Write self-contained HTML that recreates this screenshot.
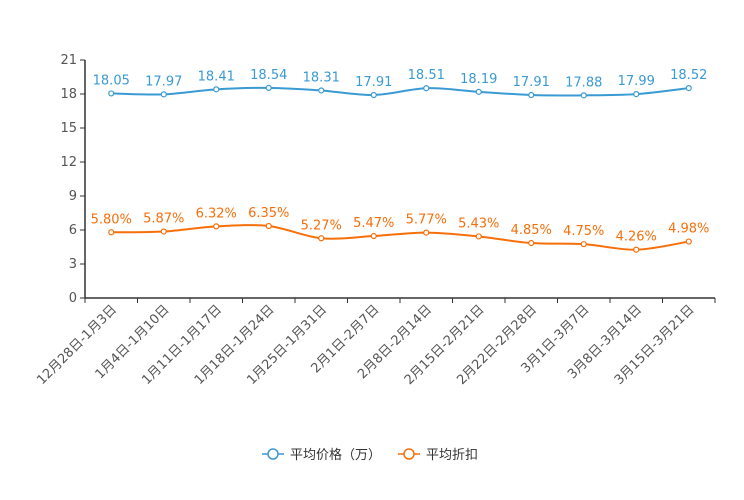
<!DOCTYPE html>
<html><head><meta charset="utf-8"><style>
body{margin:0;background:#fff;width:744px;height:496px;overflow:hidden;font-family:"DejaVu Sans","Noto Sans CJK SC",sans-serif}
</style></head><body>
<svg id="c" width="744" height="496" xmlns="http://www.w3.org/2000/svg" font-family='"DejaVu Sans","Noto Sans CJK SC",sans-serif'></svg>
<script>
const categories=["12月28日-1月3日","1月4日-1月10日","1月11日-1月17日","1月18日-1月24日","1月25日-1月31日","2月1日-2月7日","2月8日-2月14日","2月15日-2月21日","2月22日-2月28日","3月1日-3月7日","3月8日-3月14日","3月15日-3月21日"];
const priceValues=[18.05,17.97,18.41,18.54,18.31,17.91,18.51,18.19,17.91,17.88,17.99,18.52];
const discountValues=[5.80,5.87,6.32,6.35,5.27,5.47,5.77,5.43,4.85,4.75,4.26,4.98];
const yTicks=[0,3,6,9,12,15,18,21];
const svg=document.getElementById('c');const NS='http://www.w3.org/2000/svg';
const L=85,R=715,T=60,B=298,YMAX=21;
const band=(R-L)/categories.length;
const x=i=>L+band*(i+0.5);
const y=v=>B-(v/YMAX)*(B-T);
function el(t,a,p){const e=document.createElementNS(NS,t);for(const k in a)e.setAttribute(k,a[k]);(p||svg).appendChild(e);return e;}
const ya=el('line',{x1:L,y1:T,x2:L,y2:B,stroke:'#333','stroke-width':1.5});


yTicks.forEach(v=>{
 el('line',{x1:L-5,y1:y(v),x2:L,y2:y(v),stroke:'#333'});
 const t=el('text',{x:L-8,y:y(v)+4,'text-anchor':'end','font-size':13,fill:'#555'});t.textContent=v;
 
 
});
const xa=el('line',{x1:L,y1:B,x2:R,y2:B,stroke:'#333','stroke-width':1.5});


for(let i=0;i<=categories.length;i++)el('line',{x1:L+band*i,y1:B,x2:L+band*i,y2:B+5,stroke:'#333'});
categories.forEach((c,i)=>{
 const t=el('text',{x:x(i)+6,y:B+12,'text-anchor':'end','font-size':13,fill:'#555',transform:`rotate(-45 ${x(i)+6} ${B+12})`});t.textContent=c;
 
 
});
function smooth(pts){let d=`M${pts[0][0]},${pts[0][1]}`;for(let i=0;i<pts.length-1;i++){const p0=pts[i-1]||pts[i],p1=pts[i],p2=pts[i+1],p3=pts[i+2]||p2;const s=0.16;d+=` C${p1[0]+(p2[0]-p0[0])*s},${p1[1]+(p2[1]-p0[1])*s} ${p2[0]-(p3[0]-p1[0])*s},${p2[1]-(p3[1]-p1[1])*s} ${p2[0]},${p2[1]}`;}return d;}
function series(vals,color,name,fmt){
 const pts=vals.map((v,i)=>[x(i),y(v)]);
 const p=el('path',{d:smooth(pts),fill:'none',stroke:color,'stroke-width':2});
 
 
 pts.forEach((q,i)=>{
  const c=el('circle',{cx:q[0],cy:q[1],r:2.5,fill:'#fff',stroke:color,'stroke-width':1.2});
  
  
  const t=el('text',{x:q[0],y:q[1]-9,'text-anchor':'middle','font-size':13,fill:color});t.textContent=fmt(vals[i]);
  
  
 });
}
series(priceValues,'#3a9ad3','price',v=>v.toFixed(2));
series(discountValues,'#f76f0a','discount',v=>v.toFixed(2)+'%');
function legend(lx,color,label,name){
 const g=el('g',{});
 
 
 el('line',{x1:lx,y1:454,x2:lx+22,y2:454,stroke:color,'stroke-width':1.5},g);
 el('circle',{cx:lx+11,cy:454,r:5,fill:'#fff',stroke:color,'stroke-width':1.5},g);
 const t=el('text',{x:lx+28,y:459,'font-size':13,fill:'#333'},g);t.textContent=label;
}
legend(262,'#3a9ad3','平均价格（万）','legend-price');
legend(398,'#f76f0a','平均折扣','legend-discount');
</script>
</body></html>
